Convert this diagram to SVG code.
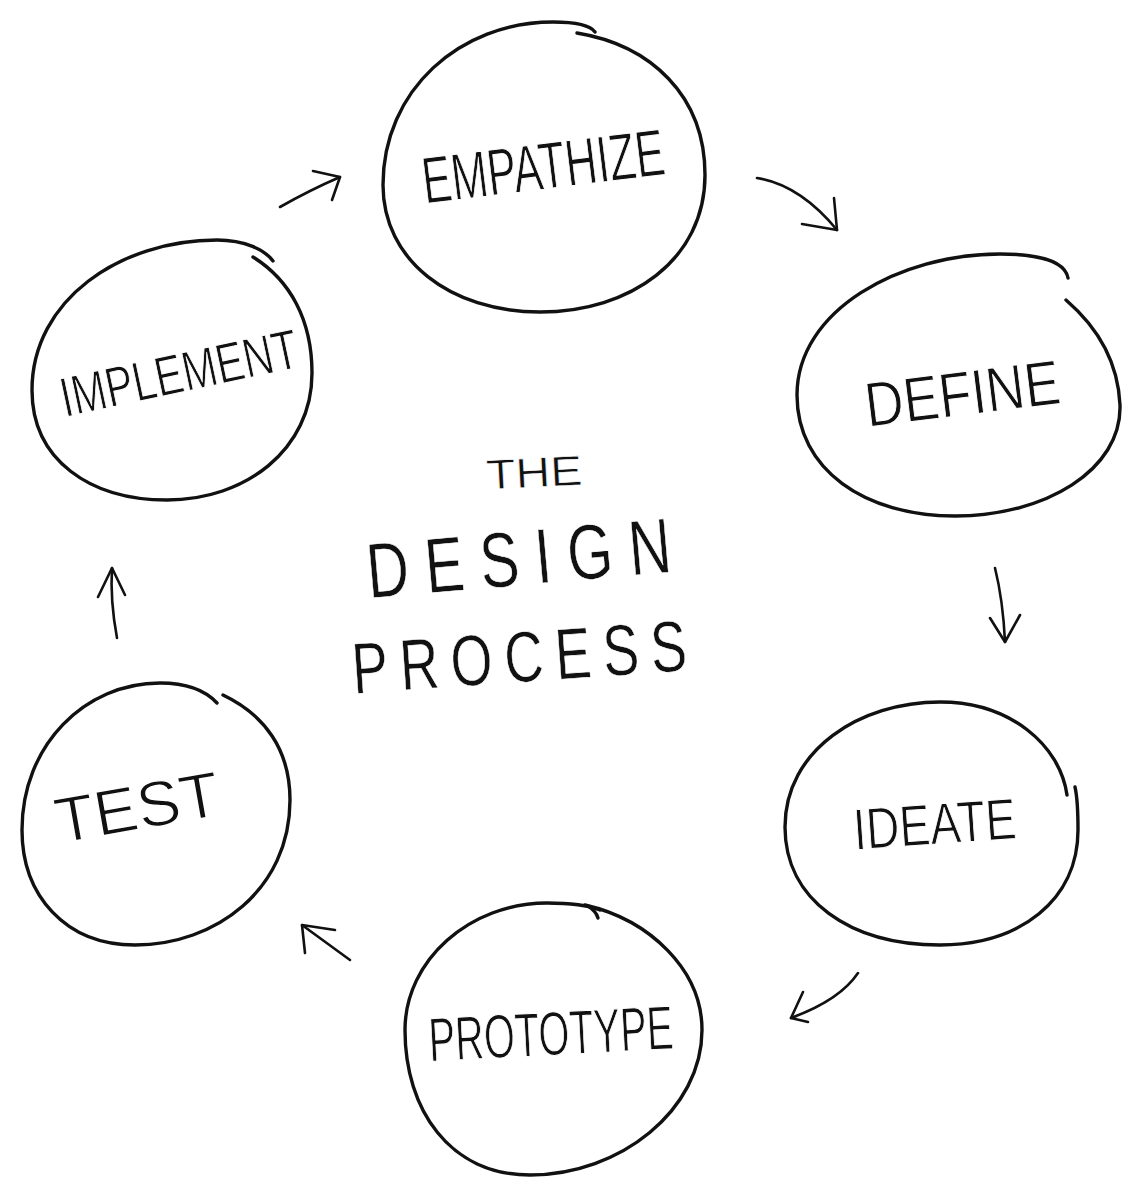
<svg xmlns="http://www.w3.org/2000/svg" width="1143" height="1197" viewBox="0 0 1143 1197">
  <style>
    .ring { fill: none; stroke: #111; stroke-width: 3.4; stroke-linecap: round; stroke-linejoin: round; }
    .link { fill: none; stroke: #111; stroke-width: 2.6; stroke-linecap: round; stroke-linejoin: round; }
    .label { font-family: "Liberation Sans", Arial, sans-serif; fill: #111; text-anchor: middle; stroke: #ffffff; stroke-width: 1; stroke-linejoin: round; }
    .thin { stroke-width: 1.3; }
    .heading { stroke-width: 0.6; }
  </style>
  <rect width="1143" height="1197" fill="#ffffff"/>

  <g id="empathize">
    <path class="ring" d="M 577 33 C 650 45 705 95 705 175 C 705 260 630 312 540 312 C 450 312 383 260 383 185 C 383 90 460 22 553 22 C 575 22 590 25 595 32"/>
    <text class="label" transform="translate(546,189) rotate(-7)" font-size="66" textLength="244" lengthAdjust="spacingAndGlyphs">EMPATHIZE</text>
  </g>

  <g id="define">
    <path class="ring" d="M 1066 300 C 1095 325 1118 360 1120 405 C 1122 470 1045 516 955 516 C 865 516 797 470 797 395 C 797 310 900 254 1000 254 C 1040 254 1065 262 1068 278"/>
    <text class="label" transform="translate(965,415) rotate(-7)" font-size="63" textLength="196" lengthAdjust="spacingAndGlyphs">DEFINE</text>
  </g>

  <g id="ideate">
    <path class="ring" d="M 1075 787 C 1078 800 1078 815 1078 830 C 1078 900 1020 945 940 945 C 850 945 785 900 785 827 C 785 750 860 702 940 702 C 1010 702 1060 745 1067 795"/>
    <text class="label" transform="translate(936,844) rotate(-4)" font-size="58" textLength="163" lengthAdjust="spacingAndGlyphs">IDEATE</text>
  </g>

  <g id="prototype">
    <path class="ring" d="M 585 905 C 650 920 702 970 702 1030 C 702 1110 620 1175 530 1175 C 450 1175 405 1110 405 1030 C 405 960 470 903 547 903 C 570 903 590 906 600 910"/>
    <path class="ring" d="M 588 906 Q 596 911 598 918" stroke-width="2"/>
    <text class="label" transform="translate(552,1055) rotate(-3)" font-size="62" textLength="245" lengthAdjust="spacingAndGlyphs">PROTOTYPE</text>
  </g>

  <g id="test">
    <path class="ring" d="M 223 695 C 265 715 290 750 290 800 C 290 890 215 945 135 945 C 65 945 22 895 22 830 C 22 745 85 683 160 683 C 185 683 205 690 217 703"/>
    <text class="label thin" transform="translate(141,829) rotate(-10)" font-size="64" textLength="166" lengthAdjust="spacingAndGlyphs">TEST</text>
  </g>

  <g id="implement">
    <path class="ring" d="M 253 257 C 290 280 312 320 312 373 C 312 450 245 500 167 500 C 90 500 32 460 32 390 C 32 300 120 240 217 240 C 245 240 265 250 273 261"/>
    <text class="label" transform="translate(183,392) rotate(-12)" font-size="56" textLength="242" lengthAdjust="spacingAndGlyphs">IMPLEMENT</text>
  </g>

  <g id="title">
    <text class="label heading" transform="translate(535,487) rotate(-3)" font-size="42" textLength="96" lengthAdjust="spacingAndGlyphs">THE</text>
    <!-- narrow, widely spaced capitals; the white outline keeps strokes even -->
    <text class="label heading" transform="translate(521,585) rotate(-5) scale(0.75,1)" font-size="78" textLength="407" lengthAdjust="spacing">DESIGN</text>
    <text class="label heading" transform="translate(521,682) rotate(-4) scale(0.75,1)" font-size="72" textLength="447" lengthAdjust="spacing">PROCESS</text>
  </g>

  <g id="connectors">
    <!-- implement to empathize -->
    <path class="link" d="M 280 207 Q 310 190 340 177"/>
    <path class="link" d="M 313 171 L 340 177 L 332 200"/>
    <!-- empathize to define -->
    <path class="link" d="M 757 178 Q 800 185 837 230"/>
    <path class="link" d="M 802 224 L 837 230 L 834 198"/>
    <!-- define to ideate -->
    <path class="link" d="M 995 568 Q 1003 600 1005 642"/>
    <path class="link" d="M 990 618 L 1005 642 L 1020 615"/>
    <!-- ideate to prototype -->
    <path class="link" d="M 858 973 Q 840 1000 791 1018"/>
    <path class="link" d="M 803 992 L 791 1018 L 808 1022"/>
    <!-- prototype to test -->
    <path class="link" d="M 350 960 L 302 925"/>
    <path class="link" d="M 305 953 L 302 925 L 335 930"/>
    <!-- test to implement -->
    <path class="link" d="M 117 638 Q 110 600 112 568"/>
    <path class="link" d="M 98 597 L 112 568 L 125 595"/>
  </g>
</svg>
